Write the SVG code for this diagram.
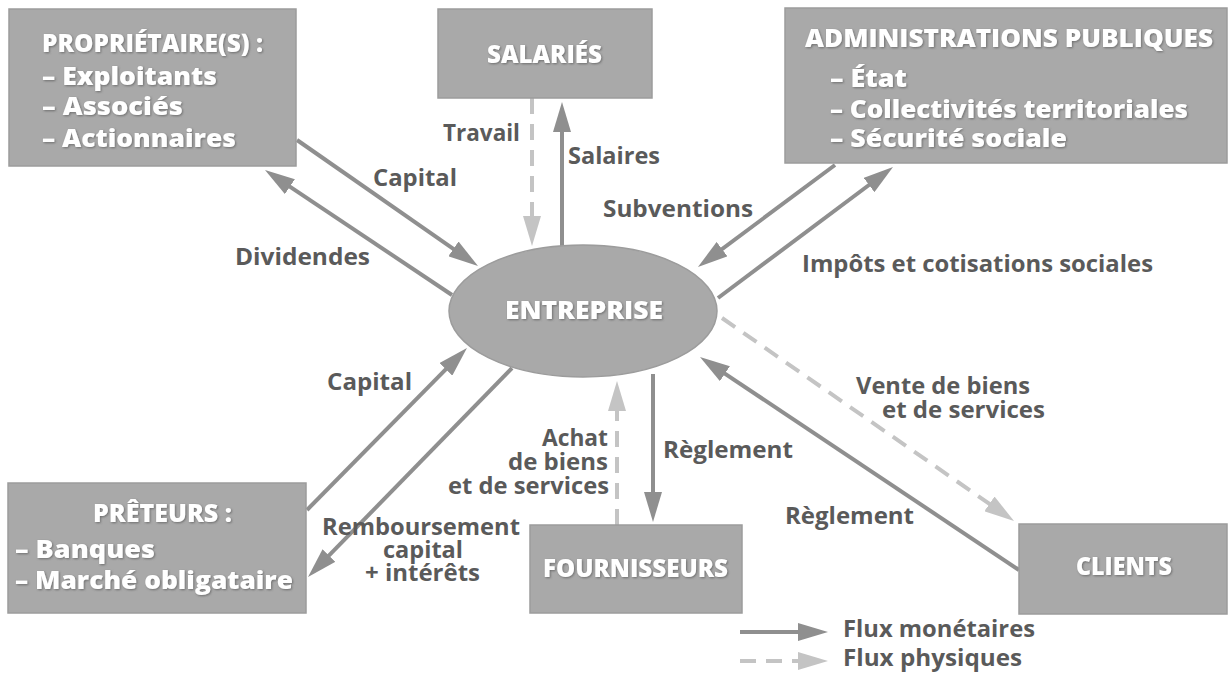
<svg xmlns="http://www.w3.org/2000/svg" width="1231" height="675" viewBox="0 0 1231 675">
  <style>
    .box { fill: #a9a9a9; stroke: #9c9c9c; stroke-width: 1.5; }
    .ttl { font-family: "Open Sans", "Liberation Sans", sans-serif; font-weight: 800; font-size: 25px; fill: #ffffff; filter: url(#soft); }
    .lbl { font-family: "Open Sans", "Liberation Sans", sans-serif; font-weight: 700; font-size: 23.5px; fill: #5a5a5a; }
    .money { fill: none; stroke: #8f8f8f; stroke-width: 4; marker-end: url(#headDark); }
    .goods { fill: none; stroke: #c4c4c4; stroke-width: 4; stroke-dasharray: 16 10; marker-end: url(#headLight); }
  </style>
  <defs>
    <filter id="soft" x="-10%" y="-30%" width="120%" height="160%">
      <feDropShadow dx="1" dy="1" stdDeviation="1.2" flood-color="#555555" flood-opacity="0.7"/>
    </filter>
    <marker id="headDark" viewBox="0 0 30 18" markerWidth="30" markerHeight="18" refX="10" refY="9" orient="auto" markerUnits="userSpaceOnUse">
      <path d="M0,0 L30,9 L0,18 z" fill="#8f8f8f"/>
    </marker>
    <marker id="headLight" viewBox="0 0 30 18" markerWidth="30" markerHeight="18" refX="10" refY="9" orient="auto" markerUnits="userSpaceOnUse">
      <path d="M0,0 L30,9 L0,18 z" fill="#c4c4c4"/>
    </marker>
  </defs>

  <rect width="1231" height="675" fill="#ffffff"/>

  <!-- flows between the company and its partners -->
  <g id="connectors">
    <path class="money" d="M297,140 L461.6,254.6"/>
    <path class="money" d="M452,295 L281.6,181.1"/>
    <path class="goods" d="M532,98 L532,226"/>
    <path class="money" d="M562,246 L562,122"/>
    <path class="money" d="M835,165 L714,255.1"/>
    <path class="money" d="M718,298 L877,179"/>
    <path class="goods" d="M722,318 L997.6,509.6"/>
    <path class="money" d="M1019,570 L716.6,368.1"/>
    <path class="money" d="M653,374 L653,502"/>
    <path class="goods" d="M617,525 L617,401"/>
    <path class="money" d="M307,510 L452.9,362.2"/>
    <path class="money" d="M512,368 L322,562.7"/>
  </g>

  <g id="flow-labels">
    <text class="lbl" x="373" y="186" textLength="84" lengthAdjust="spacingAndGlyphs">Capital</text>
    <text class="lbl" x="235" y="265" textLength="135" lengthAdjust="spacingAndGlyphs">Dividendes</text>
    <text class="lbl" x="443" y="141" textLength="77" lengthAdjust="spacingAndGlyphs">Travail</text>
    <text class="lbl" x="568" y="164" textLength="92" lengthAdjust="spacingAndGlyphs">Salaires</text>
    <text class="lbl" x="603" y="217" textLength="150" lengthAdjust="spacingAndGlyphs">Subventions</text>
    <text class="lbl" x="802" y="272" textLength="351" lengthAdjust="spacingAndGlyphs">Impôts et cotisations sociales</text>
    <text class="lbl" x="856" y="394" textLength="174" lengthAdjust="spacingAndGlyphs">Vente de biens</text>
    <text class="lbl" x="882" y="418" textLength="163" lengthAdjust="spacingAndGlyphs">et de services</text>
    <text class="lbl" x="785" y="524" textLength="129" lengthAdjust="spacingAndGlyphs">Règlement</text>
    <text class="lbl" x="663" y="458" textLength="130" lengthAdjust="spacingAndGlyphs">Règlement</text>
    <text class="lbl" x="542" y="446" textLength="66" lengthAdjust="spacingAndGlyphs">Achat</text>
    <text class="lbl" x="508" y="470" textLength="100" lengthAdjust="spacingAndGlyphs">de biens</text>
    <text class="lbl" x="448" y="494" textLength="161" lengthAdjust="spacingAndGlyphs">et de services</text>
    <text class="lbl" x="327" y="390" textLength="85" lengthAdjust="spacingAndGlyphs">Capital</text>
    <text class="lbl" x="322" y="535" textLength="198" lengthAdjust="spacingAndGlyphs">Remboursement</text>
    <text class="lbl" x="383" y="558" textLength="80" lengthAdjust="spacingAndGlyphs">capital</text>
    <text class="lbl" x="365" y="581" textLength="115" lengthAdjust="spacingAndGlyphs">+ intérêts</text>
  </g>

  <g id="proprietaires">
    <rect class="box" x="9" y="9" width="287" height="157"/>
    <text class="ttl" x="42" y="52" textLength="221" lengthAdjust="spacingAndGlyphs">PROPRIÉTAIRE(S) :</text>
    <text class="ttl" x="42" y="85" textLength="175" lengthAdjust="spacingAndGlyphs">– Exploitants</text>
    <text class="ttl" x="42" y="115" textLength="141" lengthAdjust="spacingAndGlyphs">– Associés</text>
    <text class="ttl" x="42" y="147" textLength="194" lengthAdjust="spacingAndGlyphs">– Actionnaires</text>
  </g>

  <g id="salaries">
    <rect class="box" x="438" y="9" width="214" height="89"/>
    <text class="ttl" x="487" y="63" textLength="115" lengthAdjust="spacingAndGlyphs">SALARIÉS</text>
  </g>

  <g id="administrations">
    <rect class="box" x="785" y="8" width="442" height="155"/>
    <text class="ttl" x="805" y="47" textLength="408" lengthAdjust="spacingAndGlyphs">ADMINISTRATIONS PUBLIQUES</text>
    <text class="ttl" x="830" y="87" textLength="77" lengthAdjust="spacingAndGlyphs">– État</text>
    <text class="ttl" x="830" y="118" textLength="358" lengthAdjust="spacingAndGlyphs">– Collectivités territoriales</text>
    <text class="ttl" x="830" y="147" textLength="237" lengthAdjust="spacingAndGlyphs">– Sécurité sociale</text>
  </g>

  <g id="entreprise">
    <ellipse cx="583" cy="311" rx="134" ry="66" fill="#a9a9a9" stroke="#9c9c9c" stroke-width="1.5"/>
    <text class="ttl" x="505" y="319" textLength="158" lengthAdjust="spacingAndGlyphs">ENTREPRISE</text>
  </g>

  <g id="preteurs">
    <rect class="box" x="8" y="483" width="298" height="130"/>
    <text class="ttl" x="93" y="522" textLength="139" lengthAdjust="spacingAndGlyphs">PRÊTEURS :</text>
    <text class="ttl" x="15" y="558" textLength="140" lengthAdjust="spacingAndGlyphs">– Banques</text>
    <text class="ttl" x="15" y="589" textLength="278" lengthAdjust="spacingAndGlyphs">– Marché obligataire</text>
  </g>

  <g id="fournisseurs">
    <rect class="box" x="530" y="525" width="212" height="88"/>
    <text class="ttl" x="543" y="577" textLength="185" lengthAdjust="spacingAndGlyphs">FOURNISSEURS</text>
  </g>

  <g id="clients">
    <rect class="box" x="1019" y="524" width="208" height="90"/>
    <text class="ttl" x="1076" y="575" textLength="96" lengthAdjust="spacingAndGlyphs">CLIENTS</text>
  </g>

  <g id="legend">
    <path class="money" d="M740,632 L808,632"/>
    <path class="goods" d="M740,661 L808,661"/>
    <text class="lbl" x="843" y="637" textLength="192" lengthAdjust="spacingAndGlyphs">Flux monétaires</text>
    <text class="lbl" x="843" y="666" textLength="179" lengthAdjust="spacingAndGlyphs">Flux physiques</text>
  </g>
</svg>
